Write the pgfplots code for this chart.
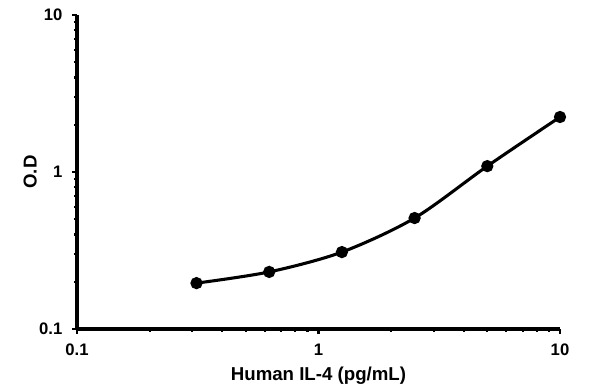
\documentclass[border=0pt]{standalone}
\usepackage{pgfplots}
\pgfplotsset{compat=1.18}
\usepackage{fontspec}
\setmainfont{Liberation Sans}
\begin{document}
\begin{tikzpicture}[x=0.75pt,y=0.75pt]
\begin{axis}[
  at={(0,0)}, anchor=south west,
  scale only axis,
  width=362.25pt, height=235.5pt,
  xmode=log, ymode=log,
  xmin=0.1, xmax=10, ymin=0.1, ymax=10,
  axis x line=bottom, axis y line=left,
  axis line style={line width=2.8pt, -},
  xtick={0.1,1,10}, xticklabels={0.1,1,10},
  ytick={0.1,1,10}, yticklabels={0.1,1,10},
  tick align=outside,
  major tick length=3.5pt, minor tick length=2pt,
  tick style={line width=1.6pt, black},
  minor tick num=8,
  ticklabel style={font=\fontsize{12.5}{14}\selectfont\bfseries},
  xticklabel style={yshift=-4pt},
  yticklabel style={xshift=-4pt},
  xlabel={Human IL-4 (pg/mL)},
  ylabel={O.D},
  label style={font=\fontsize{14}{16}\selectfont\bfseries},
  xlabel style={at={(axis description cs:0.5,-0.15)}, anchor=center},
  ylabel style={at={(axis description cs:-0.097,0.5)}, anchor=center},
  clip=false,
]
\addplot[black, line width=2.3pt, smooth, tension=0.5, mark=*, mark size=3.4pt, mark options={solid, fill=black}]
coordinates {
(0.3125,0.196)
(0.625,0.231)
(1.25,0.309)
(2.5,0.509)
(5,1.09)
(10,2.24)
};
\end{axis}
\useasboundingbox (-57.75pt,-46.5pt) rectangle (388.5pt,246.75pt);
\end{tikzpicture}
\end{document}
